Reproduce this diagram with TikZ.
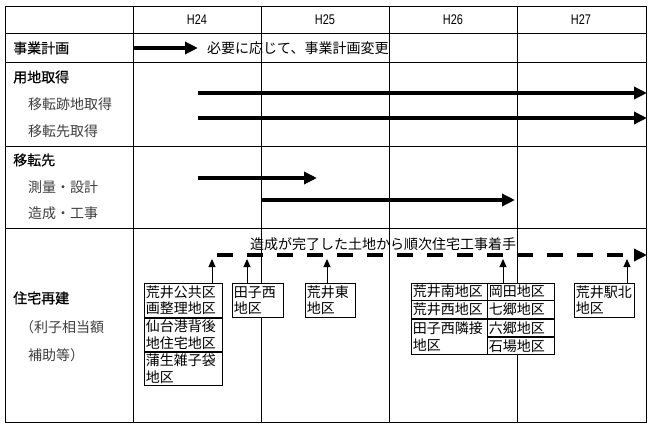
\documentclass[tikz,border=0pt]{standalone}
\usepackage{fontspec}
\usepackage{graphicx}
\setmainfont{Liberation Sans}
\newfontfamily\jp{Noto Sans CJK JP}
\newfontfamily\jpm[FakeBold=0.5]{Noto Sans CJK JP}
\newfontfamily\jpb[FakeBold=1.2]{Noto Sans CJK JP}
\newcommand{\hdrtext}[1]{\scalebox{0.78}[1]{\fontsize{14}{16}\selectfont #1}}
\usetikzlibrary{arrows.meta}
\begin{document}
\begin{tikzpicture}[x=1pt,y=-1pt,
  grid/.style={line width=0.9pt},
  lbl/.style={anchor=west, inner sep=0pt, font=\jp\fontsize{14}{16}\selectfont},
  sub/.style={lbl, text=black!75},
  sect/.style={anchor=west, inner sep=0pt, font=\jpm\fontsize{14}{16}\selectfont},
  hdr/.style={inner sep=0pt},
  bigarrow/.style={line width=4pt, -{Triangle[length=13pt,width=12pt]}},
  smallarrow/.style={line width=1pt, -{Triangle[length=8pt,width=7pt]}},
  dbox/.style={draw, fill=white, line width=0.8pt, anchor=north west, inner xsep=1.5pt, inner ysep=0pt, align=left, font=\jp\fontsize{14}{16.5}\selectfont}
]
\useasboundingbox (0,0) rectangle (653,431);
\fill[white] (0,0) rectangle (653,431);
% table grid
\draw[grid] (5,6) rectangle (646,422);
\foreach \y in {33,62,146,228} \draw[grid] (5,\y) -- (646,\y);
\foreach \x in {133,261,389,517} \draw[grid] (\x,6) -- (\x,422);
% header
\node[hdr] (h24) at (197,20) {\hdrtext{H24}};
\node[hdr] (h25) at (325,20) {\hdrtext{H25}};
\node[hdr] (h26) at (453,20) {\hdrtext{H26}};
\node[hdr] (h27) at (581,20) {\hdrtext{H27}};
% left labels
\node[sect] (l1) at (13,48) {事業計画};
\node[sect] (l2) at (13,77) {用地取得};
\node[sub] (l2a) at (28,104) {移転跡地取得};
\node[sub] (l2b) at (28,131) {移転先取得};
\node[sect] (l3) at (13,160) {移転先};
\node[sub] (l3a) at (28,187) {測量・設計};
\node[sub] (l3b) at (28,213) {造成・工事};
\node[sect, font=\jpb\fontsize{14}{16}\selectfont] (l4) at (13,298) {住宅再建};
\node[sub] (l4a) at (20,327) {（利子相当額};
\node[sub] (l4b) at (28,355) {補助等）};
% 事業計画
\coordinate (a1s) at (133,48); \coordinate (a1e) at (198,48);
\draw[bigarrow] (a1s) -- (a1e);
\node[lbl] (t1) at (207,48) {必要に応じて、事業計画変更};
% 用地取得
\coordinate (a2s) at (198,93); \coordinate (a2e) at (647,93);
\draw[bigarrow] (a2s) -- (a2e);
\coordinate (a3s) at (198,118); \coordinate (a3e) at (647,118);
\draw[bigarrow] (a3s) -- (a3e);
% 移転先
\coordinate (a4s) at (198,178); \coordinate (a4e) at (317,178);
\draw[bigarrow] (a4s) -- (a4e);
\coordinate (a5s) at (261,200); \coordinate (a5e) at (515,200);
\draw[bigarrow] (a5s) -- (a5e);
% 住宅再建
\node[lbl, anchor=center] (t2) at (383,244) {造成が完了した土地から順次住宅工事着手};
\coordinate (ds) at (217,255); \coordinate (de) at (647,255);
\draw[line width=4pt, dash pattern=on 16pt off 14pt, -{Triangle[length=13pt,width=12pt]}] (ds) -- (de);
% boxes
\node[dbox, text width=75pt, minimum height=34pt] (b1a) at (144,283) {荒井公共区\\画整理地区};
\node[dbox, text width=75pt, minimum height=33pt] (b1b) at (b1a.south west) {仙台港背後\\地住宅地区};
\node[dbox, text width=75pt, minimum height=33pt] (b1c) at (b1b.south west) {蒲生雑子袋\\地区};
\node[dbox, text width=48pt, minimum height=34pt] (b2) at (232,283) {田子西\\地区};
\node[dbox, text width=47pt, minimum height=34pt] (b3) at (305,283) {荒井東\\地区};
\node[dbox, text width=73pt, minimum height=16.5pt] (b4a) at (411,283) {荒井南地区};
\node[dbox, text width=73pt, minimum height=17.5pt] (b4b) at (b4a.south west) {荒井西地区};
\node[dbox, text width=73pt, minimum height=35pt] (b4c) at (b4b.south west) {田子西隣接\\地区};
\node[dbox, text width=64pt, minimum height=16.5pt] (b5a) at (487,283) {岡田地区};
\node[dbox, text width=64pt, minimum height=17.5pt] (b5b) at (b5a.south west) {七郷地区};
\node[dbox, text width=64pt, minimum height=17.5pt] (b5c) at (b5b.south west) {六郷地区};
\node[dbox, text width=64pt, minimum height=17.5pt] (b5d) at (b5c.south west) {石場地区};
\node[dbox, text width=57pt, minimum height=34pt] (b6) at (574,283) {荒井駅北\\地区};
% vertical arrows
\coordinate (v1) at (212,259);
\coordinate (v2) at (247,259);
\coordinate (v3) at (327,259);
\coordinate (v4) at (503,259);
\coordinate (v5) at (627,259);
\draw[smallarrow] (v1 |- b1a.north) -- (v1);
\draw[smallarrow] (v2 |- b2.north) -- (v2);
\draw[smallarrow] (v3 |- b3.north) -- (v3);
\draw[smallarrow] (v4 |- b5a.north) -- (v4);
\draw[smallarrow] (v5 |- b6.north) -- (v5);
\end{tikzpicture}
\end{document}
